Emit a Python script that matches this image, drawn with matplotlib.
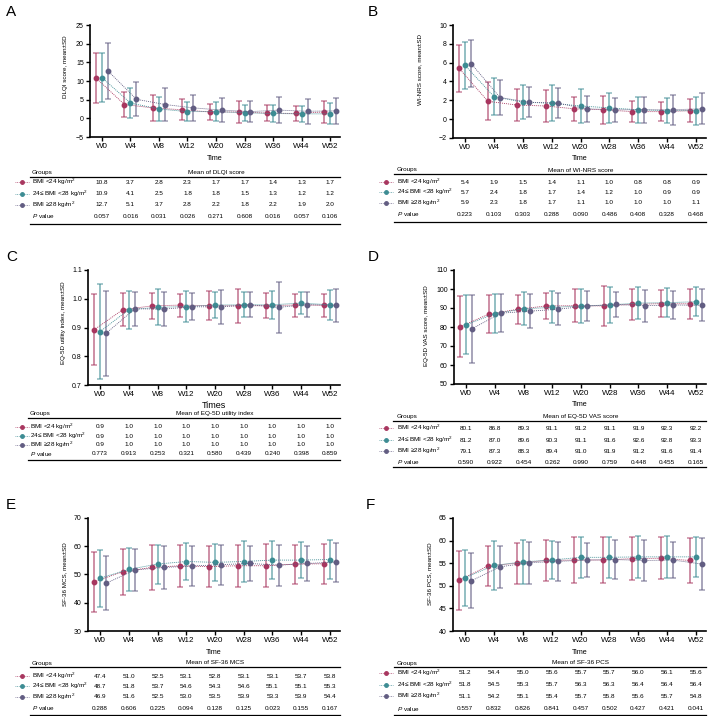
import matplotlib
matplotlib.use('Agg')
import matplotlib.pyplot as plt
import matplotlib.transforms as mtransforms
from matplotlib.lines import Line2D
import numpy as np

plt.rcParams['font.family'] = ['Liberation Sans', 'DejaVu Sans']
plt.rcParams['mathtext.fontset'] = 'custom'
plt.rcParams['mathtext.rm'] = 'Liberation Sans'
plt.rcParams['mathtext.it'] = 'Liberation Sans:italic'

W, H = 708, 716

weeks = ['W0', 'W4', 'W8', 'W12', 'W20', 'W28', 'W36', 'W44', 'W52']
groups = ['BMI <24 kg/m$^2$', '24≤ BMI <28 kg/m$^2$', 'BMI ≥28 kg/m$^2$']
colors = ['#A8365F', '#3D8C93', '#625D82']

# A - DLQI
dlqi_lo = [10.8, 3.7, 2.8, 2.3, 1.7, 1.7, 1.4, 1.3, 1.7]
dlqi_mid = [10.9, 4.1, 2.5, 1.8, 1.8, 1.5, 1.3, 1.2, 1.2]
dlqi_hi = [12.7, 5.1, 3.7, 2.8, 2.2, 1.8, 2.2, 1.9, 2.0]
dlqi_sd_lo = [6.7, 3.4, 3.4, 2.8, 2.1, 2.9, 2.1, 2.0, 2.9]
dlqi_sd_mid = [6.6, 4.0, 3.2, 2.5, 2.5, 2.1, 2.3, 2.1, 2.8]
dlqi_sd_hi = [7.5, 4.6, 4.3, 3.5, 3.3, 2.8, 3.5, 3.4, 3.5]
dlqi_p = ['0.057', '0.016', '0.031', '0.026', '0.271', '0.608', '0.016', '0.057', '0.106']

# B - WI-NRS
nrs_lo = [5.4, 1.9, 1.5, 1.4, 1.1, 1.0, 0.8, 0.8, 0.9]
nrs_mid = [5.7, 2.4, 1.8, 1.7, 1.4, 1.2, 1.0, 0.9, 0.9]
nrs_hi = [5.9, 2.3, 1.8, 1.7, 1.1, 1.0, 1.0, 1.0, 1.1]
nrs_sd_lo = [2.5, 2.0, 1.7, 1.7, 1.3, 1.5, 1.1, 1.0, 1.2]
nrs_sd_mid = [2.5, 2.0, 1.8, 1.9, 1.8, 1.6, 1.4, 1.3, 1.5]
nrs_sd_hi = [2.5, 1.9, 1.6, 1.6, 1.4, 1.3, 1.4, 1.6, 1.65]
nrs_p = ['0.223', '0.103', '0.303', '0.288', '0.090', '0.486', '0.408', '0.328', '0.468']

# C - EQ-5D utility index
eq_lo = [0.892, 0.962, 0.975, 0.978, 0.976, 0.975, 0.976, 0.978, 0.977]
eq_mid = [0.886, 0.962, 0.970, 0.973, 0.978, 0.979, 0.979, 0.985, 0.979]
eq_hi = [0.880, 0.965, 0.964, 0.972, 0.972, 0.979, 0.970, 0.980, 0.977]
eq_sd_lo = [0.124, 0.057, 0.045, 0.040, 0.050, 0.060, 0.043, 0.040, 0.040]
eq_sd_mid = [0.165, 0.066, 0.063, 0.053, 0.045, 0.044, 0.048, 0.037, 0.052]
eq_sd_hi = [0.148, 0.060, 0.060, 0.047, 0.060, 0.043, 0.088, 0.045, 0.058]
eq_p = ['0.773', '0.913', '0.253', '0.321', '0.580', '0.439', '0.240', '0.398', '0.859']

# D - EQ-5D VAS
vas_lo = [80.1, 86.8, 89.3, 91.1, 91.2, 91.1, 91.9, 92.3, 92.2]
vas_mid = [81.2, 87.0, 89.6, 90.3, 91.1, 91.6, 92.6, 92.8, 93.3]
vas_hi = [79.1, 87.3, 88.3, 89.4, 91.0, 91.9, 91.2, 91.6, 91.4]
vas_sd_lo = [16.0, 9.8, 7.7, 7.0, 8.6, 10.7, 8.0, 7.2, 7.8]
vas_sd_mid = [15.5, 10.4, 8.6, 8.4, 8.8, 9.7, 8.4, 7.6, 7.7]
vas_sd_hi = [18.0, 10.0, 9.0, 8.4, 7.7, 6.5, 8.4, 7.4, 8.5]
vas_p = ['0.590', '0.922', '0.454', '0.262', '0.990', '0.759', '0.448', '0.455', '0.165']

# E - SF-36 MCS
mcs_lo = [47.4, 51.0, 52.5, 53.1, 52.8, 53.1, 53.1, 53.7, 53.8]
mcs_mid = [48.7, 51.8, 53.7, 54.6, 54.3, 54.6, 55.1, 55.1, 55.3]
mcs_hi = [46.9, 51.6, 52.5, 53.0, 53.5, 53.9, 53.3, 53.9, 54.4]
mcs_sd_lo = [10.6, 8.2, 7.9, 7.5, 7.3, 7.5, 7.7, 6.9, 7.0]
mcs_sd_mid = [10.1, 7.7, 6.9, 6.6, 6.5, 7.2, 6.8, 6.4, 6.9]
mcs_sd_hi = [9.5, 7.6, 7.5, 7.0, 7.1, 6.2, 7.3, 6.2, 6.9]
mcs_p = ['0.288', '0.606', '0.225', '0.094', '0.128', '0.125', '0.023', '0.155', '0.167']

# F - SF-36 PCS
pcs_lo = [51.2, 54.4, 55.0, 55.6, 55.7, 55.7, 56.0, 56.1, 55.6]
pcs_mid = [51.8, 54.5, 55.3, 55.7, 56.3, 56.3, 56.4, 56.4, 56.4]
pcs_hi = [51.1, 54.2, 55.1, 55.4, 55.7, 55.8, 55.6, 55.7, 54.8]
pcs_sd_lo = [6.5, 4.4, 4.5, 4.5, 5.0, 5.0, 4.7, 4.6, 4.9]
pcs_sd_mid = [6.2, 5.4, 4.9, 4.3, 4.5, 4.5, 4.7, 4.6, 4.4]
pcs_sd_hi = [6.1, 4.7, 4.6, 4.3, 3.8, 4.4, 4.5, 4.0, 5.8]
pcs_p = ['0.557', '0.832', '0.826', '0.841', '0.457', '0.502', '0.427', '0.421', '0.041']

fig = plt.figure(figsize=(W / 100, H / 100), dpi=100)


def fy(y):
    return 1 - y / H


def hline(x0, x1, y, lw=0.9):
    fig.add_artist(Line2D([x0 / W, x1 / W], [fy(y), fy(y)], transform=fig.transFigure,
                          color='black', lw=lw))


def panel(box, letter, letter_x, ylabel, ylab_pos, ylim, yticks, means, sds, xlabel, xlab_y,
          xlab_size, title, pvals, rows, tab_x):
    l, t, r, b = box
    ax = fig.add_axes([l / W, 1 - b / H, (r - l) / W, (b - t) / H])
    x = np.arange(len(weeks))
    offs = [-0.21, 0.0, 0.21]
    for g in range(3):
        xs = x + offs[g]
        ax.errorbar(xs, means[g], yerr=sds[g], fmt='none', ecolor=colors[g], alpha=0.6,
                    elinewidth=1.3, capsize=2.0, capthick=1.1, zorder=2)
        ax.plot(xs, means[g], ls=(0, (1.2, 1.2)), lw=0.6, color=colors[g], marker='o',
                ms=3.2, zorder=3)
    ax.set_xlim(-0.42, 8.35)
    ax.set_ylim(*ylim)
    ax.set_yticks(yticks)
    ax.set_xticks(x)
    ax.set_xticklabels(weeks)
    for s in ['top', 'right']:
        ax.spines[s].set_visible(False)
    for s in ['left', 'bottom']:
        ax.spines[s].set_linewidth(1.2)
    ax.tick_params(axis='both', direction='out', length=3, width=1.0, pad=1.5)
    ax.tick_params(axis='x', labelsize=5.8)
    ax.tick_params(axis='y', labelsize=5)
    ax.set_ylabel(ylabel, fontsize=4.5)
    ax.yaxis.set_label_coords(*ylab_pos)
    ax.set_xlabel(xlabel, fontsize=xlab_size, va='center')
    ax.xaxis.set_label_coords(0.5, (b - xlab_y) / (b - t))
    fig.text(letter_x / W, fy(t - 13), letter, fontsize=11, va='center', ha='left')

    # table under the plot
    trans = mtransforms.blended_transform_factory(ax.transData, fig.transFigure)
    title_y, line_y, r1, r2, r3, rp, bot_y = rows
    x0, x1, mk_x, lab_x = tab_x
    fs = 4.6
    fig.text(lab_x / W, fy(title_y), 'Groups', fontsize=fs, va='center', ha='left')
    ax.text(4, fy(title_y), title, transform=trans, fontsize=fs, va='center', ha='center')
    hline(x0, x1, line_y, 0.9)
    for g, ry in enumerate([r1, r2, r3]):
        fig.add_artist(Line2D([(mk_x - 7) / W, (mk_x + 7) / W], [fy(ry), fy(ry)],
                              transform=fig.transFigure, color=colors[g], lw=0.5,
                              ls=(0, (1.2, 1.2))))
        fig.add_artist(Line2D([mk_x / W], [fy(ry)], transform=fig.transFigure,
                              color=colors[g], marker='o', ms=2.5, lw=0))
        fig.text(lab_x / W, fy(ry), groups[g], fontsize=fs, va='center', ha='left')
        for j, v in enumerate(means[g]):
            ax.text(j, fy(ry), f'{v:.1f}', transform=trans, fontsize=fs, va='center',
                    ha='center')
    fig.text(lab_x / W, fy(rp), '$P$ value', fontsize=fs, va='center', ha='left')
    for j, p in enumerate(pvals):
        ax.text(j, fy(rp), p, transform=trans, fontsize=fs, va='center', ha='center')
    hline(x0, x1, bot_y, 0.9)
    return ax


panel((90, 25, 340, 137), 'A', 6, 'DLQI score, mean±SD', (-0.088, 0.63), (-5, 25),
      [-5, 0, 5, 10, 15, 20, 25], [dlqi_lo, dlqi_mid, dlqi_hi],
      [dlqi_sd_lo, dlqi_sd_mid, dlqi_sd_hi], 'Time', 158, 5.2, 'Mean of DLQI score', dlqi_p,
      (172.5, 176.5, 182, 193.5, 205, 216, 223.5), (30, 340, 22, 32))

panel((453, 25, 706, 138), 'B', 368, 'WI-NRS score, mean±SD', (-0.12, 0.61), (-2, 10),
      [-2, 0, 2, 4, 6, 8, 10], [nrs_lo, nrs_mid, nrs_hi],
      [nrs_sd_lo, nrs_sd_mid, nrs_sd_hi], 'Time', 159, 5.2, 'Mean of WI-NRS score', nrs_p,
      (170, 173.5, 182, 192, 203, 214, 221.5), (394, 706, 386, 397))

panel((88, 270, 340, 385), 'C', 6, 'EQ-5D utility index, mean±SD', (-0.087, 0.54), (0.7, 1.1),
      [0.7, 0.8, 0.9, 1.0, 1.1], [eq_lo, eq_mid, eq_hi],
      [eq_sd_lo, eq_sd_mid, eq_sd_hi], 'Times', 406, 6.5, 'Mean of EQ-5D utility index', eq_p,
      (413, 418, 427, 436, 445, 453.5, 460), (28, 340, 22, 30))

panel((454, 270, 706, 384), 'D', 368, 'EQ-5D VAS score, mean±SD', (-0.1, 0.51), (50, 110),
      [50, 60, 70, 80, 90, 100, 110], [vas_lo, vas_mid, vas_hi],
      [vas_sd_lo, vas_sd_mid, vas_sd_hi], 'Time', 405, 5.2, 'Mean of EQ-5D VAS score', vas_p,
      (417, 421, 428, 440, 451, 462, 467), (393, 706, 386, 397))

panel((88, 518, 340, 631), 'E', 6, 'SF-36 MCS, mean±SD', (-0.083, 0.5), (30, 70),
      [30, 40, 50, 60, 70], [mcs_lo, mcs_mid, mcs_hi],
      [mcs_sd_lo, mcs_sd_mid, mcs_sd_hi], 'Time', 653, 5.2, 'Mean of SF-36 MCS', mcs_p,
      (663, 667, 676, 686, 697, 708, 714.5), (30, 340, 22, 32))

panel((453, 518, 706, 631), 'F', 366, 'SF-36 PCS, mean±SD', (-0.083, 0.51), (40, 65),
      [40, 45, 50, 55, 60, 65], [pcs_lo, pcs_mid, pcs_hi],
      [pcs_sd_lo, pcs_sd_mid, pcs_sd_hi], 'Time', 653, 5.2, 'Mean of SF-36 PCS', pcs_p,
      (663, 667, 673, 685, 696, 709, 714.5), (394, 706, 386, 397))

fig.savefig('out.png', dpi=100)
